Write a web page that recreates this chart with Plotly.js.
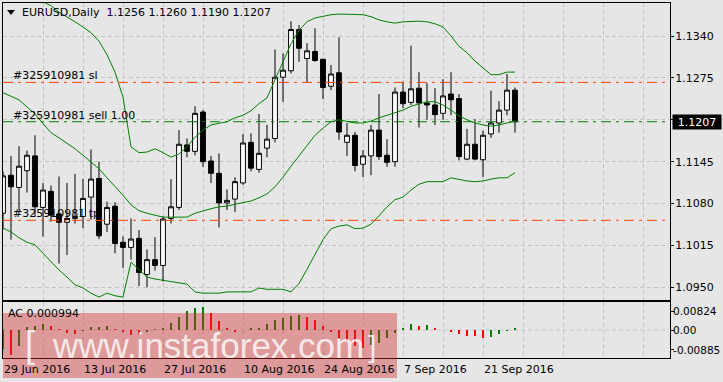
<!DOCTYPE html>
<html><head><meta charset="utf-8">
<script src="https://cdn.plot.ly/plotly-3.0.1.min.js"></script>
<style>html,body{margin:0;padding:0;background:#E6E6E6;}#chart{width:723px;height:382px;}</style>
</head><body><div id="chart"></div>
<script>
// ---------- data ----------
const symbolTitle = 'EURUSD,Daily';
const dateLabels = ['29 Jun 2016','13 Jul 2016','27 Jul 2016','10 Aug 2016','24 Aug 2016','7 Sep 2016','21 Sep 2016'];
const dateLabelBars = [0,10,20,30,40,50,60];
const gridBars = [5,10,15,20,25,30,35,40,45,50,55,60,65,70,75,80];

const openP  = [1.1065,1.1124,1.1105,1.1131,1.1154,1.1074,1.1099,1.1064,1.1051,1.1057,1.1060,1.1090,1.1119,1.1048,1.1076,1.1020,1.1012,1.1026,1.0970,1.0993,
                1.0984,1.1057,1.1074,1.1171,1.1161,1.1222,1.1146,1.1127,1.1081,1.1087,1.1112,1.1175,1.1133,1.1166,1.1181,1.1276,1.1286,1.1350,1.1305,1.1316,
                1.1304,1.1262,1.1283,1.1175,1.1186,1.1141,1.1154,1.1194,1.1155,1.1145,1.1253,1.1237,1.1259,1.1236,1.1233,1.1220,1.1250,1.1243,1.1149,1.1172,
                1.1148,1.1188,1.1205,1.1225,1.1256];
const highP  = [1.1130,1.1154,1.1169,1.1162,1.1186,1.1112,1.1108,1.1122,1.1112,1.1126,1.1118,1.1164,1.1145,1.1083,1.1082,1.1029,1.1057,1.1039,1.1009,1.1028,
                1.1060,1.1118,1.1194,1.1181,1.1231,1.1225,1.1154,1.1158,1.1102,1.1121,1.1188,1.1189,1.1219,1.1202,1.1319,1.1313,1.1363,1.1357,1.1329,1.1352,
                1.1304,1.1295,1.1338,1.1205,1.1191,1.1163,1.1202,1.1250,1.1180,1.1260,1.1269,1.1325,1.1284,1.1267,1.1259,1.1273,1.1284,1.1250,1.1196,1.1211,
                1.1193,1.1255,1.1239,1.1281,1.1260];
const lowP   = [1.1040,1.1024,1.1070,1.1097,1.1060,1.1029,1.1052,1.0987,1.1000,1.1049,1.1042,1.1055,1.1025,1.1036,1.1003,1.0980,1.0993,1.0952,1.0950,1.0976,
                1.0959,1.1049,1.1070,1.1152,1.1155,1.1137,1.1112,1.1043,1.1070,1.1067,1.1109,1.1130,1.1128,1.1152,1.1175,1.1238,1.1282,1.1300,1.1268,1.1300,
                1.1242,1.1256,1.1179,1.1154,1.1130,1.1121,1.1124,1.1148,1.1137,1.1137,1.1228,1.1233,1.1198,1.1210,1.1202,1.1210,1.1217,1.1147,1.1148,1.1147,
                1.1121,1.1182,1.1190,1.1217,1.1190];
const closeP = [1.1123,1.1106,1.1138,1.1155,1.1075,1.1101,1.1062,1.1051,1.1057,1.1060,1.1088,1.1118,1.1030,1.1074,1.1018,1.1012,1.1025,1.0973,1.0993,1.0984,
                1.1056,1.1075,1.1172,1.1161,1.1220,1.1145,1.1127,1.1081,1.1085,1.1114,1.1174,1.1135,1.1158,1.1180,1.1276,1.1287,1.1350,1.1321,1.1317,1.1302,
                1.1260,1.1281,1.1191,1.1186,1.1139,1.1154,1.1194,1.1153,1.1144,1.1253,1.1235,1.1258,1.1236,1.1233,1.1218,1.1247,1.1241,1.1153,1.1172,1.1149,
                1.1186,1.1205,1.1225,1.1256,1.1207];

const bbUpper  = [1.1427,1.1419,1.1411,1.1405,1.1399,1.1394,1.1387,1.1377,1.1370,1.1362,1.1354,1.1345,1.1332,1.1311,1.1284,1.1245,1.1168,1.1159,1.1160,1.1165,
                  1.1159,1.1152,1.1157,1.1168,1.1183,1.1194,1.1202,1.1205,1.1207,1.1213,1.1217,1.1224,1.1235,1.1244,1.1272,1.1300,1.1328,1.1349,1.1362,1.1368,
                  1.1371,1.1373,1.1374,1.1374,1.1373,1.1373,1.1370,1.1365,1.1362,1.1360,1.1362,1.1363,1.1363,1.1362,1.1359,1.1354,1.1340,1.1324,1.1314,1.1301,
                  1.1290,1.1280,1.1280,1.1284,1.1284];
const bbMiddle = [1.1252,1.1247,1.1241,1.1230,1.1219,1.1204,1.1190,1.1182,1.1174,1.1165,1.1155,1.1145,1.1134,1.1120,1.1107,1.1093,1.1078,1.1069,1.1065,1.1062,
                  1.1059,1.1059,1.1059,1.1059,1.1065,1.1069,1.1072,1.1075,1.1076,1.1079,1.1081,1.1084,1.1089,1.1095,1.1106,1.1121,1.1138,1.1154,1.1169,1.1186,
                  1.1197,1.1207,1.1210,1.1208,1.1205,1.1205,1.1208,1.1213,1.1217,1.1222,1.1225,1.1231,1.1234,1.1238,1.1238,1.1233,1.1225,1.1216,1.1210,1.1205,
                  1.1202,1.1200,1.1202,1.1205,1.1208];
const bbLower  = [1.1042,1.1036,1.1027,1.1020,1.1016,1.1003,1.0989,1.0977,1.0966,1.0954,1.0949,1.0941,1.0935,1.0941,1.0937,1.0935,1.0989,1.0977,1.0966,1.0963,
                  1.0961,1.0960,1.0958,1.0955,1.0943,1.0941,1.0941,1.0941,1.0943,1.0943,1.0944,1.0943,1.0949,1.0947,1.0947,1.0947,1.0943,1.0956,1.0978,1.1000,
                  1.1024,1.1041,1.1045,1.1047,1.1041,1.1042,1.1048,1.1061,1.1075,1.1086,1.1090,1.1101,1.1110,1.1114,1.1114,1.1114,1.1120,1.1117,1.1115,1.1114,
                  1.1115,1.1118,1.1120,1.1120,1.1128];

const acValues = [-0.0085,-0.0112,-0.0070,0.0012,0.0020,0.0027,0.0020,0.0003,-0.0012,-0.0016,-0.0004,0.0012,0.0015,0.0019,0.0003,-0.0011,-0.0022,-0.0023,-0.0008,0.0003,
                  0.0010,0.0033,0.0058,0.0085,0.0097,0.0103,0.0075,0.0042,0.0008,-0.0007,0.0002,0.0008,0.0010,0.0025,0.0043,0.0055,0.0063,0.0068,0.0060,0.0045,
                  0.0018,-0.0008,-0.0034,-0.0052,-0.0070,-0.0079,-0.0067,-0.0060,-0.0037,-0.0015,0.0007,0.0027,0.0018,0.0022,0.0009,0.0001,-0.0007,-0.0018,-0.0025,-0.0027,
                  -0.0034,-0.0030,-0.0018,-0.0003,0.000994];

const priceTicks    = [1.1340,1.1275,1.1210,1.1145,1.1080,1.1015,1.0950];
const priceTickText = ['1.1340','1.1275','','1.1145','1.1080','1.1015','1.0950'];
const acTicks    = [0.00824,0,-0.00885];
const acTickText = ['0.00824','0.00','-0.00885'];

const levelPrices = [1.1268,1.1207,1.1054];
const levelLabels = ['#325910981 sl','#325910981 sell 1.00','#325910981 tp'];
const levelColors = ['#FF4500','#008000','#FF4500'];

// ---------- drawing ----------
const bars = openP.map((_, i) => i);
const PL = 3, PT = 3, PW = 667, PH = 355;
const px = x => (x - PL) / PW;
const py = y => (PT + PH - y) / PH;
const FONT = 'DejaVu Sans';
const GRID = '#C4C4C4';
const DASH = '4px,3px';
const XR = [0, PW / 8];

const acColors = acValues.map((v, i) => (i > 0 && v > acValues[i - 1]) ? '#008000' : '#FF0000');

const traces = [
  {type:'scatter', mode:'lines', x:bars, y:bbUpper, line:{color:'#008000', width:1}, hoverinfo:'skip', xaxis:'x', yaxis:'y'},
  {type:'scatter', mode:'lines', x:bars, y:bbMiddle, line:{color:'#008000', width:1}, hoverinfo:'skip', xaxis:'x', yaxis:'y'},
  {type:'scatter', mode:'lines', x:bars, y:bbLower, line:{color:'#008000', width:1}, hoverinfo:'skip', xaxis:'x', yaxis:'y'},
  {type:'candlestick', x:bars, open:openP, high:highP, low:lowP, close:closeP, xaxis:'x', yaxis:'y',
   whiskerwidth:0, hoverinfo:'skip',
   increasing:{line:{color:'#000000', width:1}, fillcolor:'#FFFFFF'},
   decreasing:{line:{color:'#000000', width:1}, fillcolor:'#000000'}},
  {type:'bar', x:bars, y:acValues, width:0.13, marker:{color:acColors, line:{width:0}}, hoverinfo:'skip', xaxis:'x2', yaxis:'y2'}
];

const shapes = [];
levelPrices.forEach((p, k) => shapes.push({type:'line', xref:'paper', x0:0, x1:1, yref:'y', y0:p, y1:p,
  line:{color:levelColors[k], width:1, dash:'10px,5px,3px,5px'}}));
shapes.push({type:'line', xref:'x2 domain', x0:0, x1:1, yref:'y2', y0:0, y1:0, layer:'below',
  line:{color:GRID, width:1, dash:DASH}});
shapes.push({type:'path', xref:'paper', yref:'paper',
  path:`M ${px(7)} ${py(10)} L ${px(15)} ${py(10)} L ${px(11)} ${py(15)} Z`, fillcolor:'#000', line:{width:0}});
shapes.push({type:'rect', xref:'paper', yref:'paper', x0:px(3), x1:px(397), y0:py(378), y1:py(313),
  fillcolor:'rgba(210,40,40,0.4)', line:{width:0}, layer:'above'});

const n = closeP.length - 1;
const titleText = symbolTitle + '\u00A0\u00A0' + [openP[n], highP[n], lowP[n], closeP[n]].map(v => v.toFixed(4)).join(' ');
const annotations = [
  {xref:'paper', yref:'paper', x:px(20), y:py(13), xanchor:'left', yanchor:'middle', showarrow:false,
   text:titleText, font:{family:FONT, size:11, color:'#000'}},
  {xref:'paper', yref:'paper', x:px(6), y:py(313), xanchor:'left', yanchor:'middle', showarrow:false,
   text:'AC ' + acValues[n].toFixed(6), font:{family:FONT, size:11, color:'#000'}},
  {xref:'paper', yref:'y', x:1, xshift:2, y:closeP[n], xanchor:'left', yanchor:'middle', showarrow:false,
   text:closeP[n].toFixed(4), bgcolor:'#000', width:46, height:12, borderpad:1, font:{family:FONT, size:11, color:'#FFF'}}
];
levelPrices.forEach((p, k) => annotations.push({xref:'paper', yref:'y', x:px(11), y:p, xanchor:'left', yanchor:'bottom',
  yshift:-2, showarrow:false, text:levelLabels[k], font:{family:FONT, size:11, color:'#000'}}));
dateLabelBars.forEach((b, k) => annotations.push({xref:'x2', yref:'paper', x:b, y:py(369), xanchor:'left', yanchor:'middle',
  xshift:-1, showarrow:false, text:dateLabels[k], font:{family:FONT, size:11, color:'#000'}}));
annotations.push({xref:'paper', yref:'paper', x:px(23), y:py(344), xanchor:'left', yanchor:'middle', showarrow:false,
  text:'[', font:{family:'Liberation Sans', size:36, color:'rgba(255,255,255,0.8)'}});
annotations.push({xref:'paper', yref:'paper', x:px(50), y:py(345), xanchor:'left', yanchor:'middle', showarrow:false,
  text:'www.instaforex.com', font:{family:'Liberation Sans', size:35, color:'rgba(255,255,255,0.8)'}});
annotations.push({xref:'paper', yref:'paper', x:px(366), y:py(346), xanchor:'left', yanchor:'middle', showarrow:false,
  text:']', font:{family:'Liberation Sans', size:30, color:'rgba(255,255,255,0.8)'}});

const axBase = {range:XR, showline:true, mirror:true, linecolor:'#000', linewidth:1, zeroline:false,
  tickmode:'array', tickvals:gridBars, showticklabels:false, ticks:'', showgrid:true, gridcolor:GRID, griddash:DASH,
  gridwidth:1, fixedrange:true};

const layout = {
  width:723, height:382, paper_bgcolor:'#E6E6E6', plot_bgcolor:'#E6E6E6',
  margin:{l:PL, r:723 - PL - PW, t:PT, b:382 - PT - PH, pad:0},
  showlegend:false, boxgap:0.4, boxgroupgap:0, bargap:0,
  xaxis:Object.assign({}, axBase, {anchor:'y', rangeslider:{visible:false}}),
  xaxis2:Object.assign({}, axBase, {anchor:'y2'}),
  xaxis3:{overlaying:'x2', anchor:'y2', range:XR, tickmode:'array', tickvals:dateLabelBars, ticks:'outside', ticklen:4,
          tickcolor:'#000', showticklabels:false, showgrid:false, showline:false, zeroline:false, fixedrange:true},
  yaxis:{domain:[py(300), 1], anchor:'x', side:'right', range:[1.09304, 1.13912], tickmode:'array',
         tickvals:priceTicks, ticktext:priceTickText, ticks:'outside', ticklen:3, tickcolor:'#000',
         showline:true, mirror:true, linecolor:'#000', linewidth:1, showgrid:true, gridcolor:GRID, griddash:DASH,
         zeroline:false, tickfont:{family:FONT, size:11, color:'#000'}, ticklabelstandoff:-1, fixedrange:true},
  yaxis2:{domain:[0, py(302)], anchor:'x2', side:'right', range:[-0.0125, 0.0125], tickmode:'array',
          tickvals:acTicks, ticktext:acTickText, ticks:'outside', ticklen:3, tickcolor:'#000',
          showline:true, mirror:true, linecolor:'#000', linewidth:1, showgrid:false, zeroline:false,
          tickfont:{family:FONT, size:10.5, color:'#000'}, ticklabelstandoff:-3, fixedrange:true},
  shapes:shapes, annotations:annotations
};

Plotly.newPlot('chart', traces, layout, {staticPlot:true, displayModeBar:false});
</script>
</body></html>
